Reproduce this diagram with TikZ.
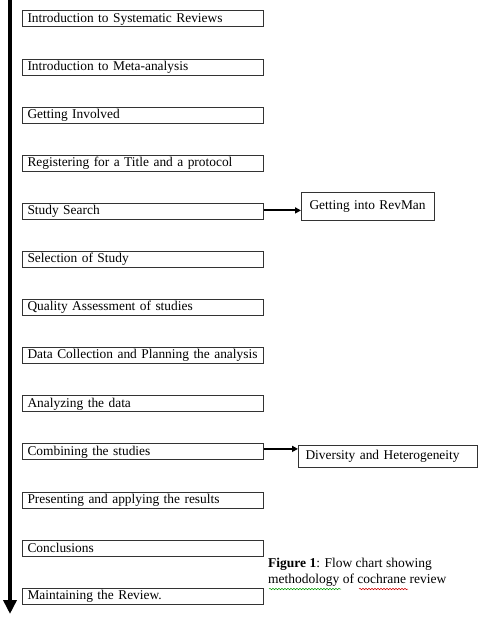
\documentclass[tikz,border=0pt]{standalone}
\usepackage{fontspec}
\setmainfont{Liberation Serif}
\usetikzlibrary{arrows.meta,decorations.pathmorphing}
\begin{document}
\begin{tikzpicture}[x=1pt,y=-1pt,
  stepbox/.style={draw=black!80, line width=1pt, minimum width=241pt, minimum height=16pt,
    inner xsep=5pt, inner ysep=0pt, text width=231pt, align=left, anchor=west,
    font=\fontsize{13.4}{15}\selectfont},
  sidebox/.style={draw=black!80, line width=1pt, inner ysep=0pt, align=left, anchor=west,
    font=\fontsize{13.4}{15}\selectfont},
  mainarrow/.style={line width=4.5pt, -{Triangle[length=14pt,width=13pt]}},
  sidearrow/.style={line width=1.8pt, -{Triangle[length=6pt,width=6pt]}},
  wavy/.style={decorate, decoration={snake, amplitude=0.7pt, segment length=3pt}, line width=0.5pt}
]
\useasboundingbox (0,0) rectangle (480,617);
\fill[white] (0,0) rectangle (480,617);

\coordinate (top) at (10,0);
\coordinate (bot) at (10,614);
\draw[mainarrow] (top) -- (bot);

\node[stepbox] (s1)  at (22,19.0)  {Introduction to Systematic Reviews};
\node[stepbox] (s2)  at (22,67.1)  {Introduction to Meta-analysis};
\node[stepbox] (s3)  at (22,115.2) {Getting Involved};
\node[stepbox] (s4)  at (22,163.3) {Registering for a Title and a protocol};
\node[stepbox] (s5)  at (22,211.4) {Study Search};
\node[stepbox] (s6)  at (22,259.5) {Selection of Study};
\node[stepbox] (s7)  at (22,307.6) {Quality Assessment of studies};
\node[stepbox] (s8)  at (22,355.7) {Data Collection and Planning the analysis};
\node[stepbox] (s9)  at (22,403.8) {Analyzing the data};
\node[stepbox] (s10) at (22,451.9) {Combining the studies};
\node[stepbox] (s11) at (22,500.0) {Presenting and applying the results};
\node[stepbox] (s12) at (22,548.1) {Conclusions};
\node[stepbox] (s13) at (22,596.2) {Maintaining the Review.};

\node[sidebox, minimum width=133pt, minimum height=28pt, inner xsep=8pt, text width=117pt] (rev) at (301,207) {Getting into RevMan};
\node[sidebox, minimum width=179pt, minimum height=22pt, inner xsep=7pt, text width=165pt] (div) at (298,456) {Diversity and Heterogeneity};

\draw[sidearrow] (s5.east) ++(0,-1) coordinate (a1) -- (a1 -| rev.west);
\draw[sidearrow] (s10.east) ++(0,-3) coordinate (a2) -- (a2 -| div.west);

\node[anchor=north west, align=left, inner sep=0pt, font=\fontsize{13.5}{16}\selectfont] (cap) at (268,558)
  {\textbf{Figure 1}: Flow chart showing\\methodology of cochrane review};

\draw[wavy, green!60!black] (269,589) -- (341,589);
\draw[wavy, red!80!black] (359,589) -- (408,589);
\end{tikzpicture}
\end{document}
